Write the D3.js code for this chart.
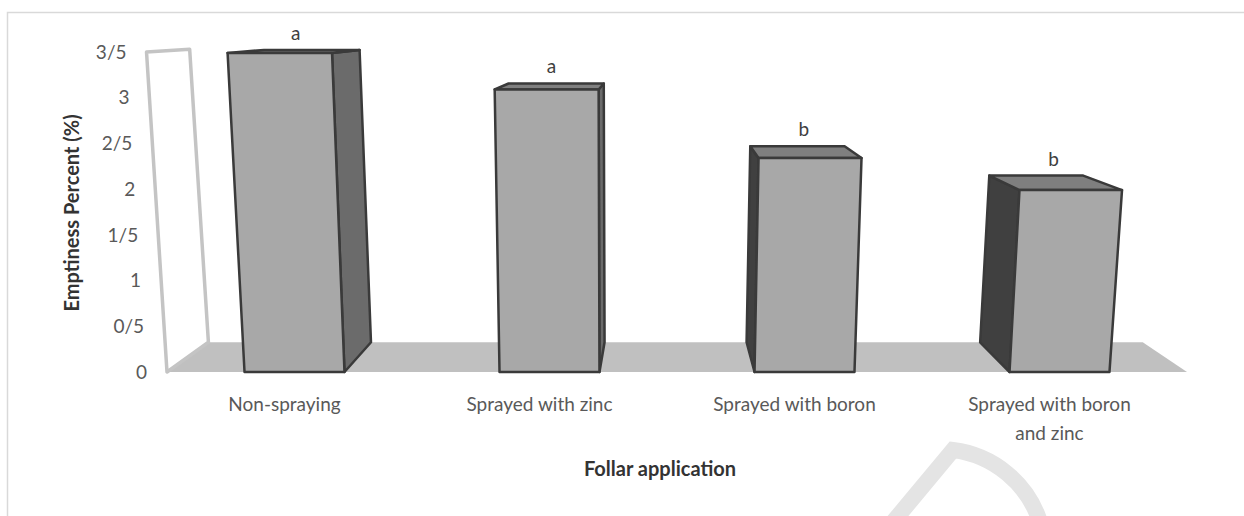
<!DOCTYPE html>
<html>
<head>
<meta charset="utf-8">
<script src="https://cdnjs.cloudflare.com/ajax/libs/d3/7.8.5/d3.min.js"></script>
<style>
body { margin: 0; background: #fff; }
svg { display: block; font-family: Lato, "Open Sans", sans-serif; }
</style>
</head>
<body>
<div id="chart"></div>
<script>
// data
var categories = ["Non-spraying", "Sprayed with zinc", "Sprayed with boron", "Sprayed with boron and zinc"];
var catLines = [["Non-spraying"], ["Sprayed with zinc"], ["Sprayed with boron"], ["Sprayed with boron", "and zinc"]];
var values = [3.49, 3.09, 2.34, 1.99];
var letters = ["a", "a", "b", "b"];
var tickValues = [0, 0.5, 1, 1.5, 2, 2.5, 3, 3.5];
var tickLabels = ["0", "0/5", "1", "1/5", "2", "2/5", "3", "3/5"];

var W = 1244, H = 516;
var floorY = 372;

var svg = d3.select("#chart").append("svg")
    .attr("width", W)
    .attr("height", H);

// faint watermark shape, cut off by the bottom edge
svg.append("path")
    .attr("d", "M893,522 L953,450 A105,105 0 0 1 1040,522")
    .attr("fill", "none")
    .attr("stroke", "#e4e4e4")
    .attr("stroke-width", 16);

// chart area border
svg.append("rect")
    .attr("x", 7.5).attr("y", 12.5)
    .attr("width", W + 20).attr("height", H + 20)
    .attr("fill", "none")
    .attr("stroke", "#d9d9d9")
    .attr("stroke-width", 1.5);

var x = d3.scaleBand()
    .domain(categories)
    .range([167, 1187])
    .paddingInner(0.608)
    .paddingOuter(0.304);

var y = d3.scaleLinear()
    .domain([0, 3.5])
    .range([floorY, 52]);

// fake perspective: verticals lean away from LCX, depth shrinks toward VP
var LCX = 621, LEAN = 1.41e-4;
var VPX = 660, VPY = 18, S = 0.916;
function front(u, yp) {
  return [u + (u - LCX) * (floorY - yp) * LEAN, yp];
}
function back(p) {
  return [VPX + (p[0] - VPX) * S, VPY + (p[1] - VPY) * S];
}
function poly(pts) {
  return "M" + pts.map(function(p) { return p[0] + "," + p[1]; }).join("L") + "Z";
}

// floor
var x0 = x.range()[0], x1 = x.range()[1];
var f0 = front(x0, floorY), f1 = front(x1, floorY);
svg.append("path")
    .attr("d", poly([f0, f1, back(f1), back(f0)]))
    .attr("fill", "#c0c0c0");

// side wall
var wb = front(x0, y(0)), wt = front(x0, y(3.5));
svg.append("path")
    .attr("d", poly([wb, wt, back(wt), back(wb)]))
    .attr("fill", "#fff")
    .attr("stroke", "#c4c4c4")
    .attr("stroke-width", 3.5)
    .attr("stroke-linejoin", "round");

// tick labels follow wall edge
svg.selectAll(".tick")
    .data(tickValues)
    .enter().append("text")
    .attr("class", "tick")
    .attr("x", function(d) { return front(x0, y(d))[0] - 20; })
    .attr("y", function(d) { return y(d); })
    .attr("dy", "0.35em")
    .attr("text-anchor", "end")
    .style("font-size", "19px")
    .attr("fill", "#595959")
    .text(function(d, i) { return tickLabels[i]; });

// bars
var bars = svg.selectAll(".bar")
    .data(values)
    .enter().append("g")
    .attr("class", "bar");

bars.each(function(v, i) {
  var g = d3.select(this);
  var u0 = x(categories[i]), u1 = u0 + x.bandwidth();
  var bl = front(u0, y(0)), br = front(u1, y(0));
  var tl = front(u0, y(v)), tr = front(u1, y(v));
  var mid = (u0 + u1) / 2;
  var side;
  if (mid < VPX) {
    side = { d: poly([br, tr, back(tr), back(br)]), c: "#6b6b6b" };
  } else {
    side = { d: poly([bl, tl, back(tl), back(bl)]), c: "#404040" };
  }
  g.append("path").attr("d", side.d)
      .attr("fill", side.c).attr("stroke", "#3a3a3a").attr("stroke-width", 2.5)
      .attr("stroke-linejoin", "round");
  g.append("path").attr("d", poly([tl, tr, back(tr), back(tl)]))
      .attr("fill", "#7f7f7f").attr("stroke", "#3a3a3a").attr("stroke-width", 2.5)
      .attr("stroke-linejoin", "round");
  g.append("path").attr("d", poly([bl, br, tr, tl]))
      .attr("fill", "#a8a8a8").attr("stroke", "#3a3a3a").attr("stroke-width", 2.5)
      .attr("stroke-linejoin", "round");
  var bt = back(tl), btr = back(tr);
  g.append("text")
      .attr("x", (tl[0] + tr[0] + bt[0] + btr[0]) / 4)
      .attr("y", Math.min(bt[1], btr[1]) - 10)
      .attr("text-anchor", "middle")
      .style("font-size", "19px")
      .attr("fill", "#404040")
      .text(letters[i]);
});

// category labels
svg.selectAll(".cat")
    .data(categories)
    .enter().append("text")
    .attr("class", "cat")
    .attr("text-anchor", "middle")
    .style("font-size", "19px")
    .attr("fill", "#595959")
    .each(function(d, i) {
      var t = d3.select(this);
      catLines[i].forEach(function(line, j) {
        t.append("tspan")
            .attr("x", x(d) + x.bandwidth() / 2 - 10)
            .attr("y", 411 + j * 29)
            .text(line);
      });
    });

// axis titles
svg.append("text")
    .attr("x", 660).attr("y", 476)
    .attr("text-anchor", "middle")
    .style("font-size", "20px")
    .style("font-weight", "bold")
    .attr("fill", "#333")
    .text("Follar application");

svg.append("text")
    .attr("transform", "translate(79,213) rotate(-90)")
    .attr("text-anchor", "middle")
    .style("font-size", "20px")
    .style("font-weight", "bold")
    .attr("fill", "#333")
    .text("Emptiness Percent (%)");
</script>
</body>
</html>
